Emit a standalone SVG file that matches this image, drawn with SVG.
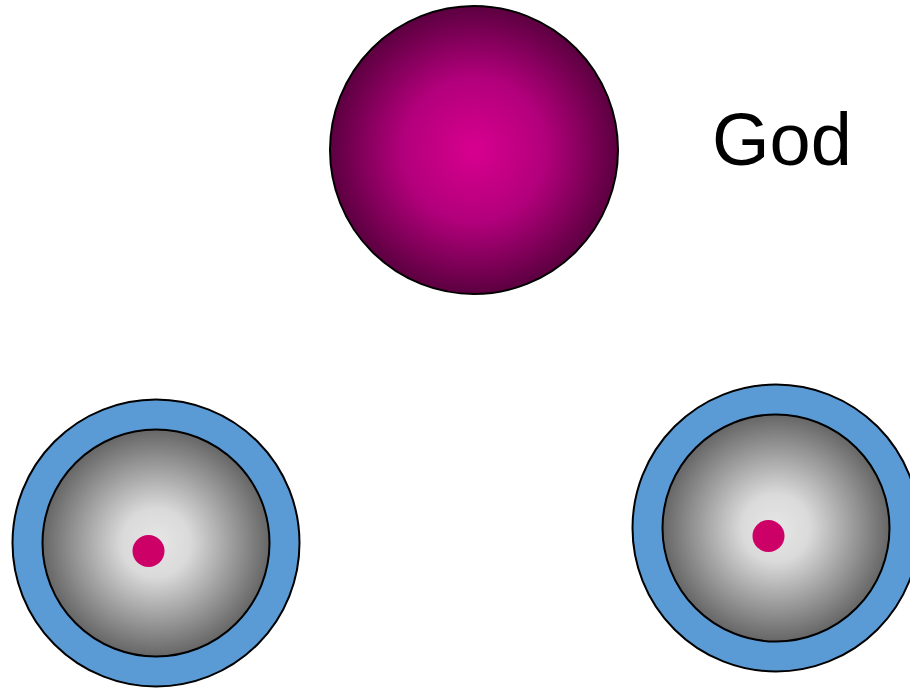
<svg xmlns="http://www.w3.org/2000/svg" width="910" height="688" viewBox="0 0 910 688">
<defs>
<radialGradient id="gPurple" cx="50%" cy="50%" r="50%">
<stop offset="0" stop-color="#D8008F"/>
<stop offset="0.5" stop-color="#B2007B"/>
<stop offset="1" stop-color="#5C0040"/>
</radialGradient>
<radialGradient id="gGray" cx="50%" cy="50%" r="50%">
<stop offset="0" stop-color="#E6E6E6"/>
<stop offset="0.3" stop-color="#DADADA"/>
<stop offset="1" stop-color="#666666"/>
</radialGradient>
</defs>
<style>
.ring{fill:#5B9BD5;stroke:#000;stroke-width:2}
.core{fill:url(#gGray);stroke:#000;stroke-width:2}
.dot{fill:#CC0066}
.lbl{font-family:"Liberation Sans",Arial,sans-serif;font-size:74px;fill:#000}
</style>
<g id="god">
<circle cx="474" cy="150" r="144" fill="url(#gPurple)" stroke="#000" stroke-width="2"/>
</g>
<g id="god-label">
<text class="lbl" x="712" y="165">God</text>
</g>
<g id="person-left">
<circle class="ring" cx="156" cy="543" r="143.5"/>
<circle class="core" cx="156" cy="543" r="113.5"/>
<circle class="dot" cx="148.5" cy="551" r="16"/>
</g>
<g id="person-right">
<circle class="ring" cx="776" cy="528" r="143.5"/>
<circle class="core" cx="776" cy="528" r="113.5"/>
<circle class="dot" cx="768.5" cy="536" r="16"/>
</g>
<g id="connectors"/>
</svg>
